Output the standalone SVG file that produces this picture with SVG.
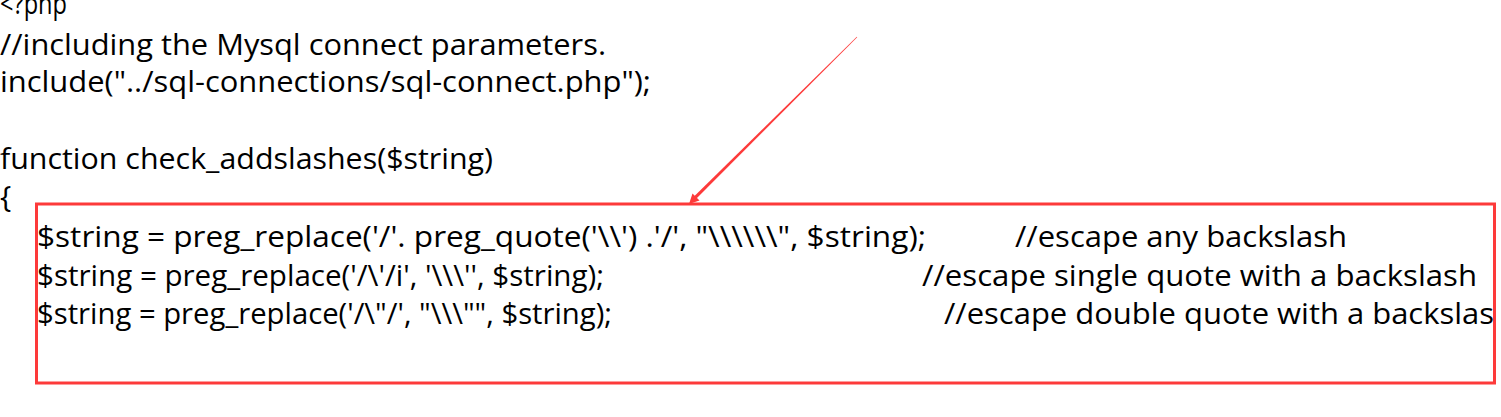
<svg xmlns="http://www.w3.org/2000/svg" width="1501" height="417" viewBox="0 0 1501 417">
<style>
  .code { font-family: "Open Sans", "Noto Sans", "DejaVu Sans", sans-serif; font-size: 30px; fill: #000; }
  .hl { fill: none; stroke: #fd3a3a; stroke-width: 3; }
  .arrow { fill: #fd3a3a; }
</style>
<rect width="1501" height="417" fill="#ffffff"/>
<g id="code-top">
  <text class="code" x="0" y="14" textLength="67" lengthAdjust="spacingAndGlyphs">&lt;?php</text>
  <text class="code" x="0" y="55" textLength="606" lengthAdjust="spacingAndGlyphs">//including the Mysql connect parameters.</text>
  <text class="code" x="0" y="92" textLength="651" lengthAdjust="spacingAndGlyphs">include("../sql-connections/sql-connect.php");</text>
  <text class="code" x="0" y="169" textLength="493" lengthAdjust="spacingAndGlyphs">function check_addslashes($string)</text>
  <text class="code" x="0" y="207">{</text>
</g>
<g id="highlight-box">
  <rect class="hl" x="36.5" y="204" width="1458" height="179"/>
  <text class="code" x="37" y="247" textLength="889" lengthAdjust="spacingAndGlyphs">$string = preg_replace('/'. preg_quote('\\') .'/', "\\\\\\", $string);</text>
  <text class="code" x="1015" y="247" textLength="332" lengthAdjust="spacingAndGlyphs">//escape any backslash</text>
  <text class="code" x="37" y="286" textLength="567" lengthAdjust="spacingAndGlyphs">$string = preg_replace('/\'/i', '\\\'', $string);</text>
  <text class="code" x="922" y="286" textLength="555" lengthAdjust="spacingAndGlyphs">//escape single quote with a backslash</text>
  <text class="code" x="37" y="324" textLength="575" lengthAdjust="spacingAndGlyphs">$string = preg_replace('/\"/', "\\\"", $string);</text>
  <text class="code" x="944" y="324" textLength="550" lengthAdjust="spacingAndGlyphs">//escape double quote with a backslas</text>
</g>
<g id="connectors">
  <polygon class="arrow" points="857.2,37.2 856.8,36.8 694,196.5 696.2,198.7"/>
  <polygon class="arrow" points="689,204 699.5,200.5 692.5,193.5"/>
</g>
</svg>
